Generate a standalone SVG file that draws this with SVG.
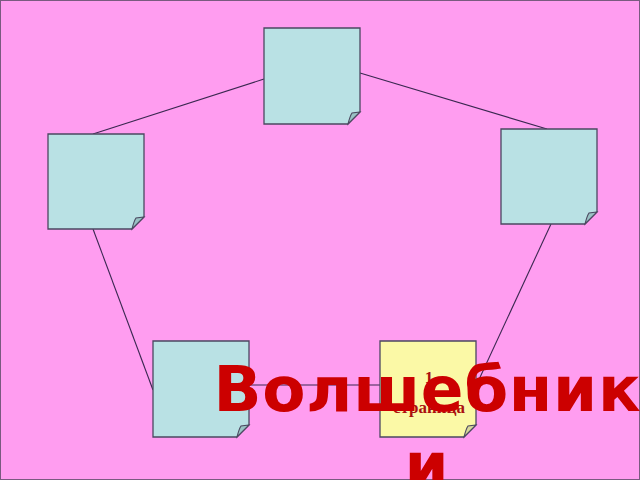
<svg xmlns="http://www.w3.org/2000/svg" width="640" height="480" viewBox="0 0 640 480">
<defs>
<style>
.note{fill:#b9e1e4;stroke:#4b4860;stroke-width:1.3}
.yellow{fill:#fbf9a6}
.fold{fill:#99c2c4;stroke:#4b4860;stroke-width:1.1}
.yfold{fill:#d8d89a;stroke:#4b4860;stroke-width:1.1}
.conn{stroke:#3a2850;stroke-width:1.1;fill:none}
.small{font-family:"Liberation Serif",serif;font-weight:bold;font-size:17px;fill:#aa1010;text-anchor:middle}
.big{font-family:"DejaVu Sans",sans-serif;font-weight:bold;font-size:63px;fill:#cc0000;text-anchor:middle;letter-spacing:0.7px}
</style>
</defs>
<rect x="0" y="0" width="640" height="480" fill="#ff9df0"/>
<rect x="0.5" y="0.5" width="639" height="479" fill="none" stroke="#7a5a80" stroke-width="1"/>
<g id="connectors">
<line class="conn" x1="93" y1="134" x2="264" y2="79"/>
<line class="conn" x1="360" y1="73" x2="547" y2="129"/>
<line class="conn" x1="93" y1="229" x2="153" y2="390"/>
<line class="conn" x1="551" y1="224" x2="476" y2="386"/>
<line class="conn" x1="249" y1="385" x2="380" y2="385"/>
</g>
<g id="node-top">
<path class="note" d="M264,28 H360 V112 L348,124 H264 Z"/>
<path class="fold" d="M348,124 Q350,116 352,113 L360,112 Z"/>
</g>
<g id="node-left">
<path class="note" d="M48,134 H144 V217 L132,229 H48 Z"/>
<path class="fold" d="M132,229 Q134,221 136,218 L144,217 Z"/>
</g>
<g id="node-right">
<path class="note" d="M501,129 H597 V212 L585,224 H501 Z"/>
<path class="fold" d="M585,224 Q587,216 589,213 L597,212 Z"/>
</g>
<g id="node-bottom-left">
<path class="note" d="M153,341 H249 V425 L237,437 H153 Z"/>
<path class="fold" d="M237,437 Q239,429 241,426 L249,425 Z"/>
</g>
<g id="node-bottom-right">
<path class="note yellow" d="M380,341 H476 V425 L464,437 H380 Z"/>
<path class="yfold" d="M464,437 Q466,429 468,426 L476,425 Z"/>
<text class="small" x="429" y="383">1</text>
<text class="small" x="429" y="413">страница</text>
</g>
<g id="title">
<text class="big" x="427.5" y="411">Волшебник</text>
<text class="big" x="427" y="487">и</text>
</g>
</svg>
